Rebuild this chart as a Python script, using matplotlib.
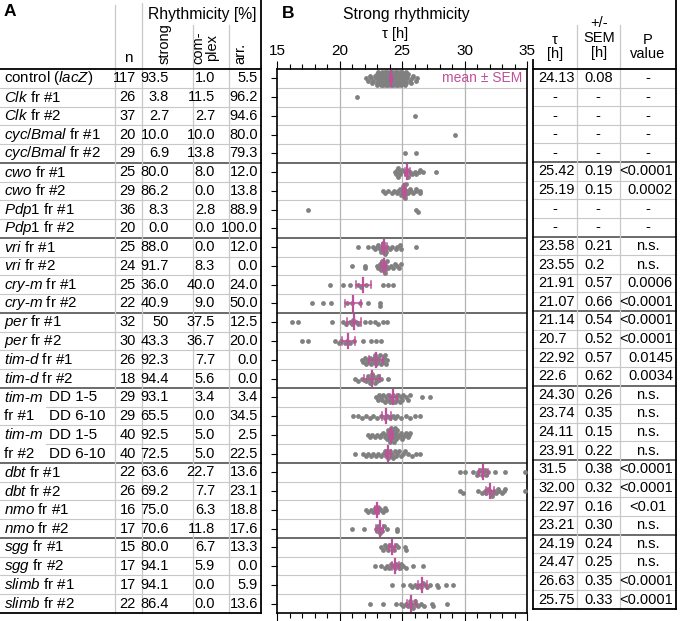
import numpy as np
import matplotlib.pyplot as plt
from matplotlib.ticker import MultipleLocator

plt.rcParams['font.family'] = 'Liberation Sans'
plt.rcParams['mathtext.fontset'] = 'custom'
plt.rcParams['mathtext.rm'] = 'Liberation Sans'
plt.rcParams['mathtext.it'] = 'Liberation Sans:italic'

GRAY = '#808080'
MAGENTA = '#c0509a'
LIGHT = '#c8c8c8'
DARK = '#6a6a6a'

# ---- table A ----
names = [
    "control ($\\mathit{lacZ}$)",
    "$\\mathit{Clk}$ fr #1", "$\\mathit{Clk}$ fr #2",
    "$\\mathit{cyc/Bmal}$ fr #1", "$\\mathit{cyc/Bmal}$ fr #2",
    "$\\mathit{cwo}$ fr #1", "$\\mathit{cwo}$ fr #2",
    "$\\mathit{Pdp1}$ fr #1", "$\\mathit{Pdp1}$ fr #2",
    "$\\mathit{vri}$ fr #1", "$\\mathit{vri}$ fr #2",
    "$\\mathit{cry}$-$\\mathit{m}$ fr #1", "$\\mathit{cry}$-$\\mathit{m}$ fr #2",
    "$\\mathit{per}$ fr #1", "$\\mathit{per}$ fr #2",
    "$\\mathit{tim}$-$\\mathit{d}$ fr #1", "$\\mathit{tim}$-$\\mathit{d}$ fr #2",
    "$\\mathit{tim}$-$\\mathit{m}$", "fr #1",
    "$\\mathit{tim}$-$\\mathit{m}$", "fr #2",
    "$\\mathit{dbt}$ fr #1", "$\\mathit{dbt}$ fr #2",
    "$\\mathit{nmo}$ fr #1", "$\\mathit{nmo}$ fr #2",
    "$\\mathit{sgg}$ fr #1", "$\\mathit{sgg}$ fr #2",
    "$\\mathit{slimb}$ fr #1", "$\\mathit{slimb}$ fr #2",
]
dd_labels = [""] * 17 + ["DD 1-5", "DD 6-10", "DD 1-5", "DD 6-10"] + [""] * 8
n_flies = ["117", "26", "37", "20", "29", "25", "29", "36", "20", "25", "24", "25", "22",
           "32", "30", "26", "18", "29", "29", "40", "40", "22", "26", "16", "17", "15",
           "17", "17", "22"]
strong = ["93.5", "3.8", "2.7", "10.0", "6.9", "80.0", "86.2", "8.3", "0.0", "88.0", "91.7",
          "36.0", "40.9", "50", "43.3", "92.3", "94.4", "93.1", "65.5", "92.5", "72.5",
          "63.6", "69.2", "75.0", "70.6", "80.0", "94.1", "94.1", "86.4"]
complex_ = ["1.0", "11.5", "2.7", "10.0", "13.8", "8.0", "0.0", "2.8", "0.0", "0.0", "8.3",
            "40.0", "9.0", "37.5", "36.7", "7.7", "5.6", "3.4", "0.0", "5.0", "5.0",
            "22.7", "7.7", "6.3", "11.8", "6.7", "5.9", "0.0", "0.0"]
arrhythmic = ["5.5", "96.2", "94.6", "80.0", "79.3", "12.0", "13.8", "88.9", "100.0", "12.0",
              "0.0", "24.0", "50.0", "12.5", "20.0", "0.0", "0.0", "3.4", "34.5", "2.5",
              "22.5", "13.6", "23.1", "18.8", "17.6", "13.3", "0.0", "5.9", "13.6"]

# ---- table C ----
tau = ["24.13", "-", "-", "-", "-", "25.42", "25.19", "-", "-", "23.58", "23.55", "21.91",
       "21.07", "21.14", "20.7", "22.92", "22.6", "24.30", "23.74", "24.11", "23.91",
       "31.5", "32.00", "22.97", "23.21", "24.19", "24.47", "26.63", "25.75"]
sem = ["0.08", "-", "-", "-", "-", "0.19", "0.15", "-", "-", "0.21", "0.2", "0.57", "0.66",
       "0.54", "0.52", "0.57", "0.62", "0.26", "0.35", "0.15", "0.22", "0.38", "0.32",
       "0.16", "0.30", "0.24", "0.25", "0.35", "0.33"]
pval = ["-", "-", "-", "-", "-", "<0.0001", "0.0002", "-", "-", "n.s.", "n.s.", "0.0006",
        "<0.0001", "<0.0001", "<0.0001", "0.0145", "0.0034", "n.s.", "n.s.", "n.s.", "n.s.",
        "<0.0001", "<0.0001", "<0.01", "n.s.", "n.s.", "n.s.", "<0.0001", "<0.0001"]

# ---- B: individual periods (strongly rhythmic flies) ----
periods = [
    [22.1, 22.3, 22.4, 22.5, 22.6, 22.7, 22.8, 22.9, 23.0, 23.0, 23.0, 23.1, 23.1, 23.2, 23.2,
     23.2, 23.3, 23.3, 23.3, 23.4, 23.4, 23.4, 23.5, 23.5, 23.5, 23.5, 23.6, 23.6, 23.6, 23.6,
     23.7, 23.7, 23.7, 23.7, 23.7, 23.8, 23.8, 23.8, 23.8, 23.9, 23.9, 23.9, 23.9, 23.9, 24.0,
     24.0, 24.0, 24.0, 24.0, 24.0, 24.1, 24.1, 24.1, 24.1, 24.1, 24.1, 24.2, 24.2, 24.2, 24.2,
     24.2, 24.3, 24.3, 24.3, 24.3, 24.3, 24.4, 24.4, 24.4, 24.4, 24.5, 24.5, 24.5, 24.5, 24.5,
     24.6, 24.6, 24.6, 24.6, 24.7, 24.7, 24.7, 24.7, 24.8, 24.8, 24.8, 24.9, 24.9, 24.9, 24.9,
     25.0, 25.0, 25.0, 25.1, 25.1, 25.1, 25.2, 25.2, 25.3, 25.3, 25.4, 25.4, 25.5, 25.6, 25.7,
     25.8, 25.9, 26.1, 26.2],
    [21.4],
    [26.0],
    [29.25],
    [25.2, 26.1],
    [24.45, 24.5, 24.6, 24.65, 24.7, 24.8, 24.85, 25.0, 25.2, 25.3, 25.4, 25.45, 25.6, 25.8,
     26.0, 26.15, 26.35, 26.45, 26.7, 27.7],
    [23.5, 23.6, 23.9, 24.2, 24.35, 24.6, 24.7, 24.8, 24.9, 25.0, 25.05, 25.1, 25.15, 25.2,
     25.25, 25.3, 25.4, 25.5, 25.6, 25.75, 25.9, 26.1, 26.15, 26.4, 26.45],
    [17.5, 26.1, 26.25],
    [],
    [21.5, 22.3, 22.65, 22.8, 23.0, 23.1, 23.2, 23.3, 23.4, 23.45, 23.5, 23.55, 23.6, 23.7,
     23.8, 24.0, 24.2, 24.5, 24.6, 24.8, 24.9, 26.1],
    [21.0, 22.0, 22.05, 23.0, 23.1, 23.2, 23.3, 23.35, 23.4, 23.5, 23.55, 23.6, 23.65, 23.7,
     23.8, 23.9, 24.1, 24.3, 24.4, 24.6, 24.75, 24.9],
    [19.2, 20.3, 20.8, 21.45, 21.7, 22.1, 23.45, 23.9, 24.3],
    [17.8, 18.7, 19.35, 20.6, 21.0, 21.65, 22.25, 23.25, 23.25],
    [16.2, 16.7, 19.4, 20.3, 20.55, 20.8, 21.0, 21.1, 21.3, 21.5, 22.05, 22.45, 22.8, 23.1,
     23.45, 23.8],
    [17.0, 17.5, 19.65, 19.95, 20.15, 20.4, 20.6, 20.85, 21.15, 21.9, 22.5, 22.95, 23.35],
    [21.8, 21.9, 22.0, 22.1, 22.2, 22.3, 22.4, 22.5, 22.6, 22.7, 22.75, 22.8, 22.9, 23.0,
     23.05, 23.1, 23.2, 23.3, 23.4, 23.5, 23.55, 23.6, 23.7, 23.8],
    [21.2, 21.5, 21.8, 22.1, 22.2, 22.3, 22.4, 22.5, 22.55, 22.6, 22.7, 22.8, 22.9, 23.0,
     23.1, 23.3, 23.9],
    [22.95, 23.05, 23.15, 23.3, 23.4, 23.5, 23.6, 23.7, 23.8, 23.9, 24.0, 24.1, 24.2, 24.3,
     24.4, 24.5, 24.6, 24.7, 24.8, 24.9, 25.0, 25.1, 25.3, 25.45, 25.6, 26.6, 27.25],
    [21.1, 21.5, 21.8, 22.1, 22.4, 22.7, 23.0, 23.3, 23.6, 23.8, 24.0, 24.25, 24.45, 24.6,
     24.9, 25.3, 25.6, 26.0, 26.45],
    [22.25, 22.45, 22.6, 22.8, 23.0, 23.2, 23.35, 23.5, 23.6, 23.7, 23.8, 23.85, 23.9, 23.95,
     24.0, 24.05, 24.1, 24.15, 24.2, 24.25, 24.3, 24.35, 24.4, 24.45, 24.5, 24.55, 24.6,
     24.7, 24.8, 24.9, 25.0, 25.1, 25.2, 25.3, 25.45, 25.55, 25.65],
    [21.2, 21.9, 22.1, 22.3, 22.5, 22.7, 22.9, 23.1, 23.3, 23.45, 23.6, 23.7, 23.8, 23.9,
     24.0, 24.1, 24.2, 24.3, 24.4, 24.5, 24.6, 24.75, 24.9, 25.05, 25.2, 25.5, 25.8, 26.1,
     26.45],
    [29.65, 30.0, 30.7, 31.0, 31.1, 31.25, 31.4, 31.5, 31.6, 31.75, 31.9, 32.4, 33.25, 34.8],
    [29.6, 29.9, 31.1, 31.4, 31.6, 31.75, 31.9, 32.0, 32.1, 32.2, 32.35, 32.5, 32.65, 32.8,
     33.0, 33.15, 33.2, 34.8],
    [22.15, 22.3, 22.5, 22.65, 22.8, 22.9, 23.0, 23.15, 23.3, 23.45, 23.6, 23.75],
    [21.0, 21.95, 22.9, 23.0, 23.1, 23.2, 23.3, 23.4, 23.55, 23.8, 24.6, 24.6],
    [23.3, 23.45, 23.6, 23.75, 23.9, 24.05, 24.2, 24.35, 24.5, 24.7, 25.2, 25.35],
    [22.8, 23.35, 23.6, 23.8, 23.95, 24.1, 24.25, 24.4, 24.5, 24.65, 24.8, 24.95, 25.1,
     25.3, 25.9, 26.7],
    [24.2, 25.1, 25.6, 25.8, 26.0, 26.2, 26.4, 26.55, 26.7, 26.85, 27.0, 27.2, 27.8, 27.9,
     28.5, 29.1],
    [22.4, 23.5, 24.55, 24.9, 25.1, 25.3, 25.45, 25.6, 25.7, 25.8, 25.9, 26.0, 26.15, 26.3,
     26.5, 26.75, 27.4, 27.5, 28.6],
]
group_ends = [4, 8, 12, 16, 20, 24]   # thick separator below these rows


def swarm_offsets(vals, dx=0.34, dy=0.12, maxk=3):
    # simple beeswarm: place each point at the closest free vertical slot
    order = np.argsort(vals)
    placed = []
    offs = np.zeros(len(vals))
    slots = [0]
    for k in range(1, maxk + 1):
        slots += [k, -k]
    for idx in order:
        v = vals[idx]
        best, best_d = 0, -1
        for k in slots:
            y = k * dy
            d = min([((v - pv) / dx) ** 2 + ((y - py) / dy) ** 2 for pv, py in placed] or [9])
            if d >= 1:
                best = y
                break
            if d > best_d:
                best, best_d = y, d
        offs[idx] = best
        placed.append((v, best))
    return offs


W, H = 680, 621
nrows = len(names)
topA, botA = 69, 613
topC, botC = 69, 609
rhA = (botA - topA) / nrows
rhC = (botC - topC) / nrows

fig = plt.figure(figsize=(W / 100, H / 100), dpi=100)
bg = fig.add_axes([0, 0, 1, 1])
bg.set_xlim(0, W)
bg.set_ylim(H, 0)
bg.axis("off")

# table A grid
for i in range(1, nrows):
    y = topA + i * rhA
    dark = (i - 1) in group_ends
    x0 = 46 if i in (18, 20) else 0
    bg.plot([x0, 261], [y, y], color=DARK if dark else LIGHT, lw=1.4 if dark else 0.8)
for x, y0 in [(115, 5), (142, 3), (193, 25), (229, 25)]:
    bg.plot([x, x], [y0, botA], color=LIGHT, lw=0.9)
bg.plot([0, 261], [topA, topA], color="k", lw=1.3)
bg.plot([0, 261], [botA, botA], color="k", lw=1.3)
bg.plot([261, 261], [0, botA], color="k", lw=1.3)

# table C grid
for i in range(1, nrows):
    y = topC + i * rhC
    dark = (i - 1) in group_ends
    bg.plot([533, 676], [y, y], color=DARK if dark else LIGHT, lw=1.4 if dark else 0.8)
for x in (577, 620):
    bg.plot([x, x], [25, botC], color=LIGHT, lw=0.9)
bg.plot([533, 676], [topC, topC], color="k", lw=1.3)
bg.plot([533, 676], [botC, botC], color="k", lw=1.3)
bg.plot([533, 533], [60, botC], color="k", lw=1.3)
bg.plot([676, 676], [0, botC], color="k", lw=1.3)

fs = 10.5
fs_name = 10.9
# headers
bg.text(4, 12, "A", fontsize=12.5, fontweight="bold", va="center")
bg.text(128, 58, "n", fontsize=11, ha="center", va="center")
bg.text(202, 14, "Rhythmicity [%]", fontsize=11.3, ha="center", va="center")
bg.text(165, 64, "strong", fontsize=fs, rotation=90, ha="center", va="bottom")
bg.text(205, 64, "com-\nplex", fontsize=fs, rotation=90, ha="center", va="bottom",
        linespacing=0.95)
bg.text(240, 64, "arr.", fontsize=fs, rotation=90, ha="center", va="bottom")
bg.text(282, 13, "B", fontsize=12.5, fontweight="bold", va="center")
bg.text(406, 14, "Strong rhythmicity", fontsize=11.3, ha="center", va="center")
bg.text(395, 34, "τ [h]", fontsize=fs, ha="center", va="center")
bg.text(555, 47, "τ\n[h]", fontsize=fs, ha="center", va="center", linespacing=1.05)
bg.text(599, 38, "+/-\nSEM\n[h]", fontsize=fs, ha="center", va="center", linespacing=1.05)
bg.text(648, 47, "P\nvalue", fontsize=fs, ha="center", va="center", linespacing=1.05)

# table rows
for i in range(nrows):
    y = topA + (i + 0.5) * rhA
    bg.text(4, y, names[i], fontsize=fs_name, va="center", ha="left")
    if dd_labels[i]:
        bg.text(49, y, dd_labels[i], fontsize=fs_name, va="center", ha="left")
    bg.text(136, y, n_flies[i], fontsize=fs, va="center", ha="right")
    bg.text(169, y, strong[i], fontsize=fs, va="center", ha="right")
    bg.text(215, y, complex_[i], fontsize=fs, va="center", ha="right")
    bg.text(258, y, arrhythmic[i], fontsize=fs, va="center", ha="right")

    yc = topC + (i + 0.5) * rhC
    if tau[i] == "-":
        bg.text(555, yc, "-", fontsize=fs, va="center", ha="center")
        bg.text(598, yc, "-", fontsize=fs, va="center", ha="center")
    else:
        bg.text(538, yc, tau[i], fontsize=fs, va="center", ha="left")
        bg.text(584, yc, sem[i], fontsize=fs, va="center", ha="left")
    p = pval[i]
    if p[-1].isdigit() and p != "<0.01":
        bg.text(673, yc, p, fontsize=fs, va="center", ha="right")
    else:
        bg.text(648, yc, p, fontsize=fs, va="center", ha="center")

# ---- panel B ----
ax = fig.add_axes([277 / W, (H - botA) / H, 250 / W, (botA - topA) / H])
ax.set_xlim(15, 35)
ax.set_ylim(nrows - 0.5, -0.5)
for i in range(nrows - 1):
    dark = i in group_ends
    ax.axhline(i + 0.5, color=DARK if dark else LIGHT, lw=1.4 if dark else 0.8, zorder=1)
for x in (20, 25, 30):
    ax.axvline(x, color="#b4b4b4", lw=0.9, zorder=1)

for i, vals in enumerate(periods):
    if not vals:
        continue
    vals = np.array(vals)
    offs = swarm_offsets(vals)
    ax.scatter(vals, i + offs, s=12, color=GRAY, linewidths=0, zorder=3)
    if tau[i] != "-":
        t, s = float(tau[i]), float(sem[i])
        ax.plot([t - s, t + s], [i, i], color=MAGENTA, lw=1.1, zorder=4)
        ax.plot([t - s, t - s], [i - 0.2, i + 0.2], color=MAGENTA, lw=1.1, zorder=4)
        ax.plot([t + s, t + s], [i - 0.2, i + 0.2], color=MAGENTA, lw=1.1, zorder=4)
        ax.plot([t, t], [i - 0.38, i + 0.38], color=MAGENTA, lw=1.6, zorder=4)

ax.text(34.6, 0, "mean ± SEM", color=MAGENTA, fontsize=10, ha="right", va="center")

ax.xaxis.tick_top()
ax.set_xticks([15, 20, 25, 30, 35])
ax.xaxis.set_minor_locator(MultipleLocator(1))
ax.tick_params(axis="x", which="both", top=True, bottom=True, labeltop=True,
               labelbottom=False, direction="out", width=0.8, labelsize=11, pad=2)
ax.tick_params(axis="x", which="major", length=6)
ax.tick_params(axis="x", which="minor", length=3.5)
ax.set_yticks(range(nrows))
ax.tick_params(axis="y", left=True, right=False, labelleft=False, length=4, width=0.8)
for sp in ax.spines.values():
    sp.set_linewidth(1.2)

fig.savefig("out.png", dpi=100)
